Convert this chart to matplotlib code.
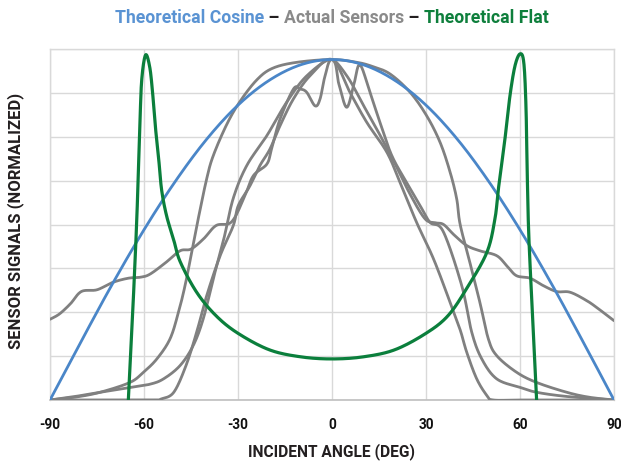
import numpy as np
import matplotlib
matplotlib.use('Agg')
import matplotlib.pyplot as plt

plt.rcParams['font.family'] = ['Roboto', 'DejaVu Sans']

# values (normalized signal vs incident angle, deg)
cosine_x = [-90, -80, -70, -60, -50, -40, -30, -20, -10, 0, 10, 20, 30, 40, 50, 60, 70, 80, 90]
cosine_y = [0.0, 0.168, 0.332, 0.485, 0.623, 0.743, 0.84, 0.911, 0.955, 0.97,
            0.955, 0.911, 0.84, 0.743, 0.623, 0.485, 0.332, 0.168, 0.0]

flat_x = [-65, -63.6, -62.3, -61.3, -60.7, -59.5, -58.2, -57.3, -56.5, -55.4, -54.4, -52.8,
          -50.6, -48.5, -43.2, -37, -30, -20, -10, 0, 10, 20, 30, 37, 43, 49.4, 52,
          53.1, 55.2, 56.8, 58.4, 60, 61.2, 61.9, 62.3, 62.8, 64, 65.3]
flat_y = [0.0, 0.25, 0.516, 0.79, 0.915, 0.983, 0.95, 0.88, 0.79, 0.696, 0.6, 0.525,
          0.459, 0.395, 0.307, 0.24, 0.19, 0.143, 0.123, 0.117, 0.123, 0.143, 0.19, 0.24,
          0.318, 0.42, 0.516, 0.601, 0.744, 0.867, 0.952, 0.986, 0.962, 0.838, 0.649, 0.47,
          0.24, 0.0]

sensor_a_x = [-90, -87, -83.5, -80, -75, -70, -65, -61, -58, -53, -48.5, -45, -41, -37, -32,
              -27.8, -25.1, -20.8, -19.3, -16.6, -12.3, -10.2, -8.1, -5.4, -3.8, -2.2, 0,
              5, 10, 15, 20, 25, 29.7, 33, 35.6, 39, 43, 47.2, 52.6, 56, 58.9, 63.2, 67.4,
              71.7, 76, 81.3, 85, 90]
sensor_a_y = [0.23, 0.245, 0.274, 0.309, 0.314, 0.335, 0.347, 0.35, 0.359, 0.392, 0.425,
              0.43, 0.459, 0.497, 0.508, 0.582, 0.639, 0.672, 0.715, 0.8, 0.886, 0.886,
              0.877, 0.838, 0.858, 0.924, 0.97, 0.92, 0.84, 0.76, 0.675, 0.585, 0.516,
              0.505, 0.5, 0.47, 0.44, 0.425, 0.411, 0.38, 0.354, 0.347, 0.326, 0.309,
              0.307, 0.283, 0.26, 0.226]

sensor_b_x = [-90, -82, -74, -64.5, -60.2, -55.9, -51.7, -49, -46.9, -44.8, -42.7, -40,
              -37.9, -33.6, -29.4, -24, -19, -11.3, 0, 8, 13, 18.5, 24.9, 30.2, 34.5,
              37.7, 39.8, 40.9, 44, 47.2, 49.9, 52.6, 58.9, 65.3, 74.9, 82, 90]
sensor_b_y = [0.0, 0.008, 0.022, 0.05, 0.079, 0.117, 0.174, 0.25, 0.326, 0.42, 0.516,
              0.63, 0.696, 0.785, 0.85, 0.912, 0.945, 0.962, 0.97, 0.962, 0.95, 0.929,
              0.877, 0.81, 0.734, 0.649, 0.573, 0.5, 0.392, 0.278, 0.174, 0.126, 0.079,
              0.05, 0.022, 0.008, 0.0]

sensor_c_x = [-90, -70, -57, -54.5, -50.5, -46.6, -43.2, -40, -35.7, -31.5, -29.9, -26.2,
              -23, -19.8, -16.6, -12.3, -7, 0, 5.7, 11.1, 17.5, 21.7, 27, 32.4, 37.7,
              40.9, 43, 46.2, 49.5, 51.5, 60, 75, 90]
sensor_c_y = [0.0, 0.0, 0.0, 0.003, 0.022, 0.098, 0.193, 0.297, 0.411, 0.497, 0.554, 0.61,
              0.668, 0.715, 0.781, 0.858, 0.924, 0.97, 0.877, 0.791, 0.706, 0.62, 0.506,
              0.402, 0.278, 0.2, 0.136, 0.06, 0.012, 0.0, 0.0, 0.0, 0.0]

sensor_d_x = [-90, -82, -74, -64, -58.1, -53.8, -48.5, -44.3, -41.1, -37.9, -34.5, -31.5,
              -27.2, -20.8, -14.5, -8, 0, 2.2, 4.7, 7, 8.9, 12.1, 15.3, 19.1, 23.8, 28.1,
              31.3, 35.5, 41.4, 44.6, 47.8, 52.6, 60, 65.3, 75, 90]
sensor_d_y = [0.0, 0.01, 0.022, 0.036, 0.045, 0.06, 0.098, 0.155, 0.231, 0.345, 0.46,
              0.575, 0.668, 0.753, 0.848, 0.924, 0.97, 0.9, 0.834, 0.9, 0.955, 0.877,
              0.791, 0.696, 0.62, 0.554, 0.506, 0.48, 0.326, 0.193, 0.117, 0.06, 0.036,
              0.022, 0.01, 0.0]

sensors = [(sensor_a_x, sensor_a_y), (sensor_b_x, sensor_b_y),
           (sensor_c_x, sensor_c_y), (sensor_d_x, sensor_d_y)]

x_ticks = [-90, -60, -30, 0, 30, 60, 90]

BLUE = '#4A86C8'
GRAY = '#808080'
GREEN = '#0B7F3C'
DARK = '#231F20'


def smooth(xs, ys, n=24):
    # Excel-style smoothed line: cubic Bezier through the points
    p = np.column_stack([xs, ys]).astype(float)
    p = np.vstack([p[0], p, p[-1]])
    out = []
    t = np.linspace(0, 1, n)[:, None]
    for i in range(1, len(p) - 2):
        p0, p1, p2, p3 = p[i - 1], p[i], p[i + 1], p[i + 2]
        c1 = p1 + (p2 - p0) / 6.0
        c2 = p2 - (p3 - p1) / 6.0
        seg = ((1 - t) ** 3) * p1 + 3 * ((1 - t) ** 2) * t * c1 + 3 * (1 - t) * t ** 2 * c2 + t ** 3 * p2
        out.append(seg if i == 1 else seg[1:])
    out = np.vstack(out)
    return out[:, 0], out[:, 1]


fig = plt.figure(figsize=(6.21, 4.64), dpi=100)
ax = fig.add_axes([50 / 621, 1 - 401 / 464, 564 / 621, 351 / 464])

for sx, sy in sensors:
    xx, yy = smooth(sx, sy)
    ax.plot(xx, yy, color=GRAY, lw=2.0, solid_capstyle='round', zorder=3)

xx, yy = smooth(cosine_x, cosine_y)
ax.plot(xx, yy, color=BLUE, lw=2.0, zorder=4)
xx, yy = smooth(flat_x, flat_y)
ax.plot(xx, yy, color=GREEN, lw=2.3, zorder=5)

ax.set_xlim(-90, 90)
ax.set_ylim(0, 1)
ax.set_xticks(x_ticks)
ax.set_xticklabels([str(v) for v in x_ticks])
ax.set_yticks(np.arange(0, 1.001, 0.125))
ax.set_yticklabels([])
ax.tick_params(length=0, pad=12)
for lbl in ax.get_xticklabels():
    lbl.set_fontsize(9.8)
    lbl.set_fontweight('bold')
    lbl.set_color('#111111')
ax.grid(True, color='#D9D9D9', lw=1.0)
ax.set_axisbelow(True)
for side in ['left', 'right', 'top']:
    ax.spines[side].set_color('#D9D9D9')
    ax.spines[side].set_linewidth(1.0)
ax.spines['bottom'].set_color('#BFBFBF')
ax.spines['bottom'].set_linewidth(1.2)

fig.text(331 / 621, 1 - 452 / 464, 'INCIDENT ANGLE (DEG)', fontsize=11.2, fontweight='bold',
         color=DARK, ha='center', va='center')
fig.text(16 / 621, 1 - 221 / 464, 'SENSOR SIGNALS (NORMALIZED)', fontsize=12, fontweight='bold',
         color=DARK, ha='center', va='center', rotation=90)

# multi-coloured title, laid out piece by piece
pieces = [('Theoretical Cosine', '#5A93D3'), (' \u2013 ', DARK), ('Actual Sensors', '#8A8A8A'),
          (' \u2013 ', DARK), ('Theoretical Flat', '#0E7F3C')]
renderer = fig.canvas.get_renderer()
texts = []
for s, c in pieces:
    texts.append(fig.text(0, 1 - 18 / 464, s, color=c, fontsize=12.7, fontweight='bold',
                          ha='left', va='center'))
widths = [t.get_window_extent(renderer).width for t in texts]
x = (332 - sum(widths) / 2) / 621
for t, w in zip(texts, widths):
    t.set_x(x)
    x += w / 621

fig.savefig('out.png', dpi=100)
